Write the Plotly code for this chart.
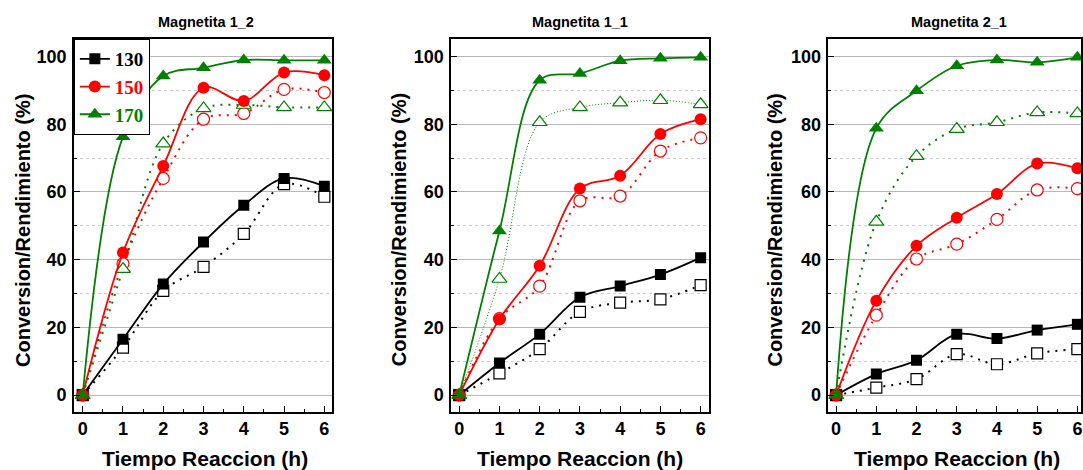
import plotly.graph_objects as go

W, H = 1083, 470

time_h = [0, 1, 2, 3, 4, 5, 6]
panel_titles = ["Magnetita 1_2", "Magnetita 1_1", "Magnetita 2_1"]
temps = ["130", "150", "170"]
y_ticks = [0, 20, 40, 60, 80, 100]

# Magnetita 1_2 : conversion (filled) / rendimiento (open)
m12_conv_130 = [0, 16.5, 32.8, 45.2, 56.1, 64.0, 61.7]
m12_rend_130 = [0, 14.0, 30.8, 37.9, 47.6, 62.3, 58.6]
m12_conv_150 = [0, 42.1, 67.7, 90.8, 86.9, 95.3, 94.5]
m12_rend_150 = [0, 38.8, 64.0, 81.5, 83.2, 90.3, 89.4]
m12_conv_170 = [0, 76.3, 94.3, 96.7, 99.0, 98.9, 98.9]
m12_rend_170 = [0, 37.2, 74.3, 84.7, 85.7, 85.0, 85.0]

# Magnetita 1_1
m11_conv_130 = [0, 9.5, 18.0, 28.9, 32.2, 35.6, 40.6]
m11_rend_130 = [0, 6.4, 13.6, 24.6, 27.3, 28.3, 32.5]
m11_conv_150 = [0, 22.4, 38.2, 61.0, 64.8, 77.1, 81.5]
m11_rend_150 = [0, 22.6, 32.2, 57.4, 58.8, 72.1, 76.0]
m11_conv_170 = [0, 48.5, 93.0, 95.0, 98.8, 99.5, 99.8]
m11_rend_170 = [0, 34.3, 80.6, 85.0, 86.4, 87.1, 85.9]

# Magnetita 2_1
m21_conv_130 = [0, 6.2, 10.3, 18.0, 16.7, 19.2, 20.9]
m21_rend_130 = [0, 2.2, 4.7, 12.1, 9.1, 12.3, 13.6]
m21_conv_150 = [0, 27.9, 44.1, 52.4, 59.4, 68.4, 67.0]
m21_rend_150 = [0, 23.6, 40.2, 44.6, 51.9, 60.6, 61.0]
m21_conv_170 = [0, 78.8, 89.9, 97.3, 99.0, 98.3, 99.8]
m21_rend_170 = [0, 51.2, 70.6, 78.6, 80.6, 83.5, 83.2]

panels = [
    ([m12_conv_130, m12_conv_150, m12_conv_170], [m12_rend_130, m12_rend_150, m12_rend_170]),
    ([m11_conv_130, m11_conv_150, m11_conv_170], [m11_rend_130, m11_rend_150, m11_rend_170]),
    ([m21_conv_130, m21_conv_150, m21_conv_170], [m21_rend_130, m21_rend_150, m21_rend_170]),
]

colors = ["#000000", "#ff0000", "#008000"]
symbols = ["square", "circle", "triangle-up"]
msizes = [11, 12, 13]

x_domains = [(74 / W, 333 / W), (452 / W, 710 / W), (830 / W, 1.0)]
x_ranges = [(-0.22, 6.2), (-0.2, 6.2), (-0.19, 6.09)]
y_domain = (1 - 412 / H, 1 - 39 / H)
y_range = (-5.0, 105.2)

fig = go.Figure()
for p, (convs, rends) in enumerate(panels):
    xa = "x" if p == 0 else f"x{p+1}"
    ya = "y" if p == 0 else f"y{p+1}"
    # open symbols (rendimiento), dotted
    for i in range(3):
        thin = (p == 1 and i == 2)
        fig.add_trace(go.Scatter(
            x=time_h, y=rends[i], mode="lines+markers", xaxis=xa, yaxis=ya,
            showlegend=False,
            line=dict(color=colors[i], width=1 if thin else 2, shape="spline", smoothing=1,
                      dash="1px,2px" if thin else "2px,6px"),
            marker=dict(symbol=symbols[i], size=msizes[i], color="white",
                        line=dict(color=colors[i], width=1.2)),
        ))
    # filled symbols (conversion), solid
    for i in range(3):
        fig.add_trace(go.Scatter(
            x=time_h, y=convs[i], mode="lines+markers", xaxis=xa, yaxis=ya,
            name=f"<span style='color:{colors[i]}'>{temps[i]}</span>", showlegend=(p == 0),
            line=dict(color=colors[i], width=1.8, shape="spline", smoothing=1),
            marker=dict(symbol=symbols[i], size=msizes[i], color=colors[i],
                        line=dict(color=colors[i], width=0)),
        ))

axis_font = dict(family="Liberation Sans, Arial", size=18, color="black", weight="bold")
layout = dict(
    width=W, height=H, margin=dict(l=0, r=0, t=0, b=0),
    paper_bgcolor="white", plot_bgcolor="white",
    showlegend=True,
    legend=dict(x=74 / W, y=1 - 39 / H, xanchor="left", yanchor="top",
                bgcolor="white", bordercolor="black", borderwidth=1,
                font=dict(family="Liberation Serif, Times New Roman", size=19, weight="bold"),
                itemwidth=30, tracegroupgap=0),
)
for p in range(3):
    sfx = "" if p == 0 else str(p + 1)
    layout["xaxis" + sfx] = dict(
        domain=x_domains[p], range=x_ranges[p], anchor="y" + sfx,
        tickmode="array", tickvals=time_h, ticktext=[str(t) for t in time_h],
        ticks="inside", ticklen=6, tickwidth=1.3, tickcolor="black",
        minor=dict(dtick=0.5, ticks="inside", ticklen=3, tickwidth=1.3, tickcolor="black", showgrid=False),
        showline=True, linecolor="black", linewidth=1.6, mirror=True,
        showgrid=False, zeroline=False, tickfont=axis_font,
    )
    layout["yaxis" + sfx] = dict(
        domain=y_domain, range=y_range, anchor="x" + sfx,
        tickmode="array", tickvals=y_ticks, ticktext=[str(t) for t in y_ticks],
        ticks="inside", ticklen=6, tickwidth=1.3, tickcolor="black",
        minor=dict(dtick=10, tick0=0, ticks="inside", ticklen=3, tickwidth=1.3, tickcolor="black",
                   showgrid=True, gridcolor="#cccccc", gridwidth=1, griddash="dot"),
        showline=True, linecolor="black", linewidth=1.6, mirror=True,
        showgrid=True, gridcolor="#b8b8b8", gridwidth=1, zeroline=False,
        tickfont=axis_font, ticklabelstandoff=2,
    )
fig.update_layout(**layout)

title_x = [206, 581, 961]
ytitle_x = [23, 400, 776]
xtitle_x = [205, 581, 959]
for p in range(3):
    fig.add_annotation(text=panel_titles[p], x=title_x[p] / W, y=1 - 22 / H, xref="paper", yref="paper",
                       showarrow=False, xanchor="center", yanchor="middle",
                       font=dict(family="Liberation Sans, Arial", size=14.5, color="black", weight="bold"))
    fig.add_annotation(text="Conversion/Rendimiento (%)", x=ytitle_x[p] / W, y=1 - 230 / H,
                       xref="paper", yref="paper", showarrow=False, textangle=-90,
                       xanchor="center", yanchor="middle",
                       font=dict(family="Liberation Sans, Arial", size=20, color="black", weight="bold"))
    fig.add_annotation(text="Tiempo Reaccion (h)", x=xtitle_x[p] / W, y=1 - 458 / H,
                       xref="paper", yref="paper", showarrow=False,
                       xanchor="center", yanchor="middle",
                       font=dict(family="Liberation Sans, Arial", size=21, color="black", weight="bold"))

fig.write_html("out.html", config={"displayModeBar": False},
               post_script="document.body.style.margin='0';document.body.style.overflow='hidden';")
